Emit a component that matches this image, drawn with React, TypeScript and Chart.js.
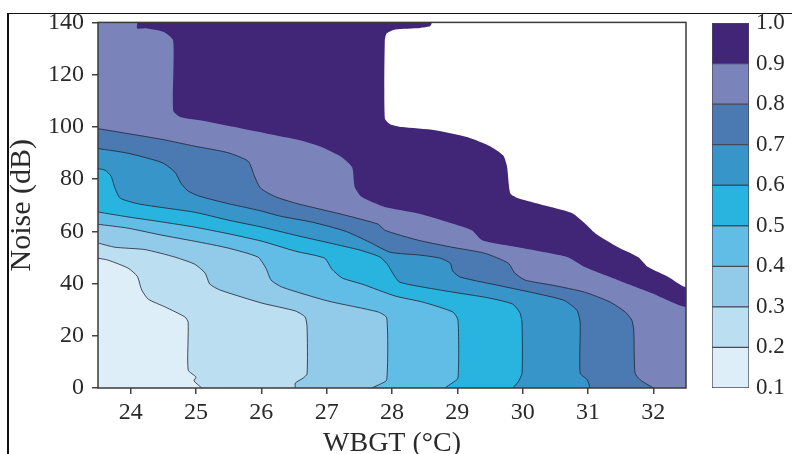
import React, { useEffect, useRef } from "react";
import { Chart, registerables } from "chart.js";

Chart.register(...registerables);

// ---- data ----
const levels = [0.1, 0.2, 0.3, 0.4, 0.5, 0.6, 0.7, 0.8, 0.9, 1.0];
const bandColors = [
  "#deeef8", // 0.1-0.2
  "#bcdef1", // 0.2-0.3
  "#92cbea", // 0.3-0.4
  "#62bde6", // 0.4-0.5
  "#29b4df", // 0.5-0.6
  "#3895ca", // 0.6-0.7
  "#4b79b1", // 0.7-0.8
  "#7b83bb", // 0.8-0.9
  "#412677", // 0.9-1.0
];
const aboveTopColor = "#ffffff";
const xTicks = [24, 25, 26, 27, 28, 29, 30, 31, 32];
const yTicks = [0, 20, 40, 60, 80, 100, 120, 140];
const cbTicks = levels;

type Pt = [number, number];

// contour lines [WBGT, Noise]
const c02: Pt[] = [
  [23.5, 49.7], [23.65, 49.0], [23.96, 45.9], [24.1, 42.8], [24.17, 37.5], [24.27, 34.0],
  [24.53, 31.0], [24.83, 27.2], [24.88, 25.2], [24.88, 6.9], [25.0, 4.2], [24.97, 2.7], [25.09, 0],
];
const c03: Pt[] = [
  [23.5, 55.5], [23.76, 53.9], [24.22, 53.0], [24.68, 50.1], [24.98, 47.4], [25.14, 44.0],
  [25.21, 39.8], [25.37, 37.5], [26.01, 32.5], [26.52, 29.5], [26.67, 27.2], [26.7, 23.3],
  [26.7, 5.4], [26.64, 3.8], [26.52, 1.9], [26.52, 0],
];
const c04: Pt[] = [
  [23.5, 62.7], [23.96, 61.2], [24.48, 58.5], [24.98, 56.2], [25.49, 53.6], [25.95, 50.1],
  [26.07, 45.9], [26.15, 41.3], [26.32, 38.6], [27.02, 33.3], [27.79, 29.1], [27.92, 26.8],
  [27.92, 3.1], [27.82, 1.5], [27.69, 0],
];
const c05: Pt[] = [
  [23.5, 67.4], [23.96, 65.5], [24.48, 63.6], [24.98, 61.6], [25.49, 59.1], [26.01, 56.2],
  [26.52, 52.4], [26.97, 49.7], [27.08, 45.5], [27.24, 42.1], [27.54, 39.8], [28.05, 35.2],
  [28.47, 32.9], [28.93, 29.1], [29.01, 26.0], [29.01, 3.8], [28.92, 1.9], [28.81, 0],
];
const c06: Pt[] = [
  [23.5, 84.0], [23.61, 83.4], [23.7, 81.1], [23.76, 76.5], [23.84, 72.7], [24.14, 70.4],
  [24.98, 67.3], [25.49, 64.3], [26.01, 61.6], [26.52, 58.5], [27.05, 55.5], [27.51, 52.8],
  [27.82, 50.1], [27.94, 47.0], [28.02, 43.6], [28.12, 40.5], [28.74, 37.5], [29.5, 34.4],
  [29.85, 32.1], [29.96, 28.7], [29.99, 24.9], [29.99, 5.7], [29.93, 2.3], [29.85, 0],
];
const c07: Pt[] = [
  [23.5, 91.7], [23.96, 89.9], [24.48, 86.3], [24.68, 82.6], [24.77, 78.4], [24.88, 75.4],
  [25.06, 73.4], [25.49, 70.6], [25.75, 69.2], [26.01, 67.7], [26.29, 65.8], [26.78, 63.5],
  [27.28, 60.1], [27.66, 55.8], [27.97, 52.0], [28.43, 50.9], [28.74, 49.7], [28.89, 47.8],
  [28.93, 44.8], [29.04, 42.5], [29.76, 38.6], [30.62, 33.7], [30.83, 29.8], [30.88, 24.9],
  [30.88, 5.7], [30.99, 3.1], [31.03, 0],
];
const c08: Pt[] = [
  [23.5, 99.3], [23.96, 97.4], [24.48, 95.2], [24.98, 92.6], [25.49, 90.1], [25.8, 86.8],
  [25.9, 80.8], [25.99, 76.5], [26.21, 73.3], [26.52, 70.8], [26.78, 69.2], [27.28, 66.2],
  [27.79, 62.7], [27.89, 60.4], [28.4, 56.6], [28.92, 53.9], [29.42, 51.6], [29.78, 47.8],
  [29.88, 44.0], [30.04, 41.3], [30.45, 39.4], [30.95, 36.7], [31.34, 32.9], [31.57, 29.1],
  [31.67, 26.0], [31.7, 22.2], [31.72, 5.7], [31.8, 3.1], [31.9, 1.5], [32.0, 0],
];
const c09: Pt[] = [
  [24.1, 140], [24.1, 137.7], [24.25, 137.7], [24.5, 136.4], [24.65, 133.1], [24.65, 106.3],
  [24.76, 103.8], [25.06, 102.5], [25.57, 100.0], [26.09, 97.4], [26.59, 94.9], [26.93, 92.2],
  [27.23, 88.4], [27.39, 84.5], [27.43, 76.9], [27.54, 73.1], [27.89, 69.3], [28.4, 66.8],
  [28.92, 63.0], [29.22, 60.4], [29.38, 56.6], [29.93, 53.9], [30.69, 50.1], [30.95, 46.3],
  [31.46, 41.3], [31.98, 36.3], [32.5, 31.0],
];
const c10: Pt[] = [
  [28.61, 140], [28.58, 138.5], [28.43, 137.9], [28.05, 137.3], [27.92, 135.8], [27.89, 133.1],
  [27.89, 103.3], [27.97, 101.0], [28.15, 99.9], [28.66, 98.7], [29.16, 96.0], [29.5, 92.6],
  [29.7, 89.1], [29.76, 84.9], [29.81, 74.6], [29.93, 72.7], [30.45, 69.2], [30.76, 66.9],
  [30.95, 63.1], [31.11, 59.3], [31.46, 53.9], [31.77, 50.1], [31.92, 46.3], [32.23, 42.5],
  [32.5, 38.6],
];
const contours: Pt[][] = [c02, c03, c04, c05, c06, c07, c08, c09, c10];
const linedContours: Pt[][] = [c02, c03, c04, c05, c06, c07, c08];

const X_MIN = 23.5, X_MAX = 32.5, Y_MIN = 0, Y_MAX = 140;
const FONT = "'Liberation Serif', 'Times New Roman', serif";
const TEXT = "#2a2a2a";
const TENSION = 0.2;

// region where value is above the contour level (closed shape, padded outside the axes)
function regionAbove(c: Pt[]) {
  const padL = X_MIN - 1, padR = X_MAX + 1, padB = Y_MIN - 10, padT = Y_MAX + 10;
  const first = c[0], last = c[c.length - 1];
  const fromLeft = first[0] <= X_MIN;
  const pts: Pt[] = [];
  if (fromLeft) pts.push([padL, first[1]]);
  else pts.push([first[0], padT]);
  pts.push(...c);
  if (last[1] <= Y_MIN) {
    pts.push([last[0], padB]);
    pts.push([padR, padB]);
  } else {
    pts.push([padR, last[1]]);
  }
  pts.push([padR, padT]);
  if (fromLeft) pts.push([padL, padT]);
  return pts.map(([x, y]) => ({ x, y }));
}

const framePlugin = {
  id: "frameAndBase",
  beforeDatasetsDraw(chart: any) {
    const { ctx, chartArea: a } = chart;
    ctx.save();
    ctx.fillStyle = bandColors[0];
    ctx.fillRect(a.left, a.top, a.right - a.left, a.bottom - a.top);
    ctx.restore();
  },
  afterDraw(chart: any) {
    const { ctx, chartArea: a } = chart;
    ctx.save();
    ctx.strokeStyle = "#3a3a3a";
    ctx.lineWidth = 1.5;
    ctx.strokeRect(a.left, a.top, a.right - a.left, a.bottom - a.top);
    ctx.restore();
  },
};

export default function App() {
  const mainRef = useRef<HTMLCanvasElement>(null);
  const cbRef = useRef<HTMLCanvasElement>(null);

  useEffect(() => {
    document.body.style.margin = "0";
    document.body.style.overflow = "hidden";

    const polys = contours.map((c, i) => ({
      data: regionAbove(c),
      showLine: true,
      fill: "shape",
      backgroundColor: i === contours.length - 1 ? aboveTopColor : bandColors[i + 1],
      borderColor: "rgba(0,0,0,0)",
      borderWidth: 0,
      pointRadius: 0,
      tension: TENSION,
      order: 100 - i,
    }));
    const lines = linedContours.map((c) => ({
      data: c.map(([x, y]) => ({ x, y })),
      showLine: true,
      fill: false,
      borderColor: "rgba(35,35,50,0.8)",
      borderWidth: 1,
      pointRadius: 0,
      tension: TENSION,
      order: 1,
    }));

    const main = new Chart(mainRef.current!, {
      type: "scatter",
      data: { datasets: [...lines, ...polys] as any },
      options: {
        animation: false,
        responsive: false,
        events: [],
        layout: { padding: { left: 0, top: 22, right: 106, bottom: 0 } },
        plugins: { legend: { display: false }, tooltip: { enabled: false } },
        scales: {
          x: {
            type: "linear",
            min: X_MIN,
            max: X_MAX,
            afterBuildTicks: (a: any) => { a.ticks = xTicks.map((v) => ({ value: v })); },
            afterFit: (s: any) => { s.height = 76; },
            ticks: { font: { family: FONT, size: 24 }, color: TEXT, padding: 4, maxRotation: 0, autoSkip: false },
            grid: { drawOnChartArea: false, drawTicks: true, tickLength: 6, color: "#444", lineWidth: 1.5 },
            border: { display: false },
            title: { display: true, text: "WBGT (°C)", font: { family: FONT, size: 28 }, color: TEXT, padding: { top: 4, bottom: 4 } },
          },
          y: {
            type: "linear",
            min: Y_MIN,
            max: Y_MAX,
            afterBuildTicks: (a: any) => { a.ticks = yTicks.map((v) => ({ value: v })); },
            afterFit: (s: any) => { s.width = 98; },
            ticks: { font: { family: FONT, size: 24 }, color: TEXT, padding: 8 },
            grid: { drawOnChartArea: false, drawTicks: true, tickLength: 6, color: "#444", lineWidth: 1.5 },
            border: { display: false },
            title: { display: true, text: "Noise (dB)", font: { family: FONT, size: 30 }, color: TEXT, padding: { top: 4, bottom: 4 } },
          },
        },
      } as any,
      plugins: [framePlugin],
    });

    const cb = new Chart(cbRef.current!, {
      type: "bar",
      data: {
        labels: [""],
        datasets: bandColors.map((col, i) => ({
          data: [[levels[i], levels[i + 1]]],
          backgroundColor: col,
          borderColor: "#4a4a55",
          borderWidth: 1,
          borderSkipped: false,
          grouped: false,
          barPercentage: 1,
          categoryPercentage: 1,
        })) as any,
      },
      options: {
        animation: false,
        responsive: false,
        events: [],
        layout: { padding: { left: 12, top: 23, right: 0, bottom: 66 } },
        plugins: { legend: { display: false }, tooltip: { enabled: false } },
        scales: {
          x: { display: false },
          y: {
            position: "right",
            min: 0.1,
            max: 1.0,
            afterBuildTicks: (a: any) => { a.ticks = cbTicks.map((v) => ({ value: v })); },
            afterFit: (s: any) => { s.width = 43; },
            ticks: { callback: (v: any) => Number(v).toFixed(1), font: { family: FONT, size: 23 }, color: TEXT, padding: 7 },
            grid: { display: false, drawTicks: false },
            border: { display: false },
          },
        },
      } as any,
    });

    return () => {
      main.destroy();
      cb.destroy();
    };
  }, []);

  return (
    <div style={{ position: "fixed", left: 0, top: 0, width: 792, height: 454, overflow: "hidden", background: "#fff" }}>
      <div style={{ position: "absolute", left: 7, top: 13, right: -20, bottom: -20, borderTop: "1px solid #111", borderLeft: "2px solid #111" }} />
      <canvas ref={mainRef} width={792} height={464} style={{ position: "absolute", left: 0, top: 0 }} />
      <canvas ref={cbRef} width={92} height={454} style={{ position: "absolute", left: 700, top: 0 }} />
    </div>
  );
}
